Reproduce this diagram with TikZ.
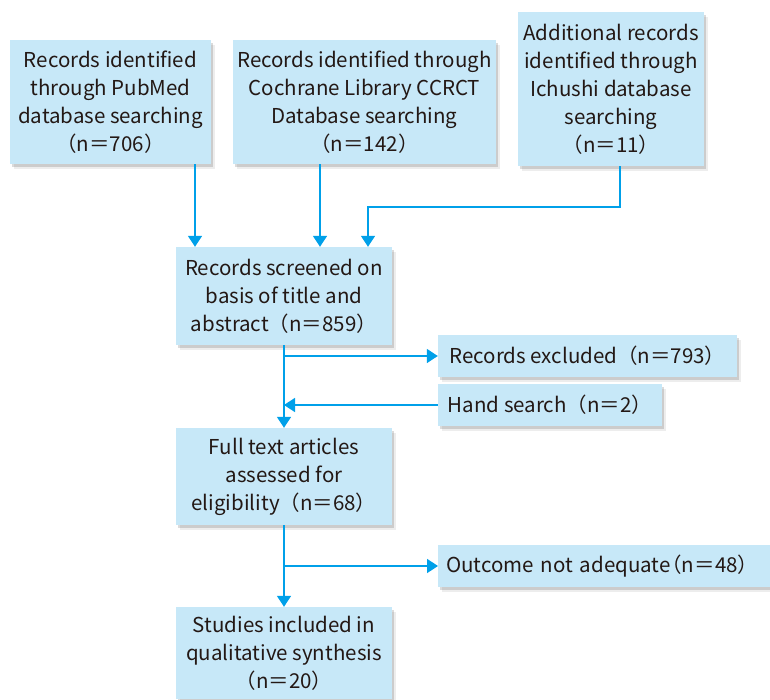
\documentclass[tikz,border=0pt]{standalone}
\usepackage{fontspec}
\setmainfont{Noto Sans CJK JP}
\usetikzlibrary{arrows.meta,shadows,positioning}
\definecolor{boxblue}{RGB}{199,232,248}
\definecolor{flowblue}{RGB}{0,160,233}
\definecolor{inkgray}{RGB}{35,24,21}
\tikzset{>={Triangle[width=14pt,length=11pt]}, % makes the arrow heads filled
x=1pt, y=-1pt, % one unit is one pixel of the layout, y runs down
flow/.style={->, draw=flowblue, line width=1.6pt}, % sets the properties for each connector
softshadow/.style={drop shadow={shadow xshift=2pt, shadow yshift=-3pt, opacity=.14, fill=black},
  drop shadow={shadow xshift=4pt, shadow yshift=-5pt, opacity=.07, fill=black}},
box/.style={fill=boxblue, text=inkgray, align=center, inner sep=0pt, softshadow,
  font=\fontsize{20.5}{28}\selectfont}, % sets the properties for each box
}

\begin{document}
\begin{tikzpicture}
\useasboundingbox (0,0) rectangle (770,699);
\node[box, minimum width=201pt, minimum height=124pt] (pubmed) at (110.5,102) {Records identified\\through PubMed\\database searching\\（n＝706）};
\node[box, minimum width=263pt, minimum height=124pt] (cochrane) at (364.5,102) {Records identified through\\Cochrane Library CCRCT\\Database searching\\（n＝142）};
\node[box, minimum width=186pt, minimum height=154pt] (ichushi) at (611,89) {Additional records\\identified through\\Ichushi database\\searching\\（n＝11）};
\node[box, minimum width=216pt, minimum height=98pt] (screen) at (284,296) {Records screened on\\basis of title and\\abstract（n＝859）};
\node[box, minimum width=299pt, minimum height=42pt] (excluded) at (587.5,356) {Records excluded（n＝793）};
\node[box, minimum width=224pt, minimum height=42pt] (hand) at (550,405) {Hand search（n＝2）};
\node[box, minimum width=216pt, minimum height=97pt] (fulltext) at (284,476.5) {Full text articles\\assessed for\\eligibility（n＝68）};
\node[box, anchor=west, text width=344pt, align=left, inner xsep=8pt, minimum height=42pt] (outcome) at (438,566) {Outcome not adequate\kern-.45em（n＝48）};
\node[box, minimum width=216pt, minimum height=92pt] (included) at (284,653) {Studies included in\\qualitative synthesis\\（n＝20）};

\coordinate (c1) at (195,205);
\coordinate (c2) at (320,205);
\coordinate (c3) at (620,207);
\coordinate (c4) at (368,207);
\draw[flow] (pubmed.south -| c1) -- (screen.north -| c1);
\draw[flow] (cochrane.south -| c2) -- (screen.north -| c2);
\draw[flow] (ichushi.south -| c3) -- (c3) -| (screen.north -| c4);
\draw[flow] (screen) -- (fulltext);
\draw[flow] (screen.south |- excluded) -- (excluded.west);
\draw[flow] (hand.west) -- (hand.west -| screen.south);
\draw[flow] (fulltext) -- (included);
\draw[flow] (fulltext.south |- outcome) -- (outcome.west);
\end{tikzpicture}
\end{document}
